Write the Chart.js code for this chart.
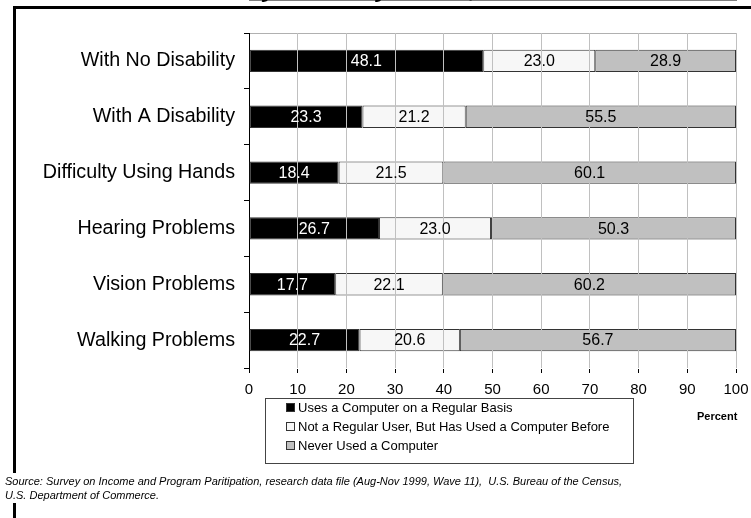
<!DOCTYPE html>
<html>
<head>
<meta charset="utf-8">
<script src="https://cdn.jsdelivr.net/npm/chart.js@4/dist/chart.umd.min.js"></script>
<style>
  html, body { margin: 0; padding: 0; background: #fff; overflow: hidden; }
  canvas { display: block; }
</style>
</head>
<body>
<canvas id="chart" width="751" height="518"></canvas>
<script>
  const categories = [
    'With No Disability', 'With A Disability', 'Difficulty Using Hands',
    'Hearing Problems', 'Vision Problems', 'Walking Problems'
  ];
  const seriesNames = [
    'Uses a Computer on a Regular Basis',
    'Not a Regular User, But Has Used a Computer Before',
    'Never Used a Computer'
  ];
  const regularUse = [48.1, 23.3, 18.4, 26.7, 17.7, 22.7];
  const usedBefore = [23.0, 21.2, 21.5, 23.0, 22.1, 20.6];
  const neverUsed = [28.9, 55.5, 60.1, 50.3, 60.2, 56.7];
  const seriesColors = ['#000000', '#f7f7f7', '#c0c0c0'];
  const labelColors = ['#ffffff', '#000000', '#000000'];

  const titleText = 'by Disability Status, 1999';
  const axisTitle = 'Percent';
  const sourceLines = [
    'Source: Survey on Income and Program Paritipation, research data file (Aug-Nov 1999, Wave 11),  U.S. Bureau of the Census,',
    'U.S. Department of Commerce.'
  ];

  const FONT = "'Liberation Sans', Arial, sans-serif";

  // frame, title, value labels, legend box, source note
  const extras = {
    id: 'extras',
    afterDraw(chart) {
      const ctx = chart.ctx;
      ctx.save();

      // values in the segments
      ctx.font = '16px ' + FONT;
      ctx.textAlign = 'center';
      ctx.textBaseline = 'middle';
      chart.data.datasets.forEach((ds, i) => {
        chart.getDatasetMeta(i).data.forEach((bar, j) => {
          ctx.fillStyle = labelColors[i];
          ctx.fillText(ds.data[j].toFixed(1), (bar.x + bar.base) / 2, bar.y + 1);
        });
      });

      // outer frame (top + left)
      ctx.fillStyle = '#000';
      ctx.fillRect(13, 6, 751 - 13, 3);
      ctx.fillRect(13, 6, 3, 518 - 6);

      // title, mostly cut off by the top edge
      ctx.font = 'italic bold 24px ' + FONT;
      ctx.textAlign = 'left';
      ctx.textBaseline = 'alphabetic';
      ctx.fillText(titleText, 248, -3);

      // legend
      const lx = 265, ly = 398, lw = 368, lh = 65;
      ctx.strokeStyle = '#444';
      ctx.lineWidth = 1;
      ctx.strokeRect(lx + 0.5, ly + 0.5, lw, lh);
      ctx.font = '13px ' + FONT;
      ctx.textBaseline = 'middle';
      chart.data.datasets.forEach((ds, i) => {
        const y = 408 + i * 19;
        ctx.fillStyle = ds.backgroundColor;
        ctx.fillRect(286, y - 5, 9, 9);
        ctx.strokeStyle = '#333';
        ctx.strokeRect(286.5, y - 4.5, 8, 8);
        ctx.fillStyle = '#000';
        ctx.fillText(ds.label, 298, y);
      });

      // axis title
      ctx.font = 'bold 11px ' + FONT;
      ctx.fillText(axisTitle, 697, 417);

      // source note, on a white box over the frame
      ctx.font = 'italic 11px ' + FONT;
      ctx.fillStyle = '#fff';
      ctx.fillRect(0, 473, ctx.measureText(sourceLines[0]).width + 8, 30);
      ctx.fillStyle = '#000';
      ctx.textBaseline = 'alphabetic';
      ctx.fillText(sourceLines[0], 5, 485);
      ctx.fillText(sourceLines[1], 5, 499);

      ctx.restore();
    }
  };

  new Chart(document.getElementById('chart'), {
    type: 'bar',
    data: {
      labels: categories,
      datasets: [regularUse, usedBefore, neverUsed].map((vals, i) => ({
        label: seriesNames[i],
        data: vals,
        backgroundColor: seriesColors[i],
        borderColor: '#333',
        borderWidth: 1,
        borderSkipped: false,
        barPercentage: 0.4,
        categoryPercentage: 1
      }))
    },
    options: {
      indexAxis: 'y',
      responsive: false,
      animation: false,
      devicePixelRatio: 1,
      layout: { padding: { left: 0, top: 33, right: 15, bottom: 0 } },
      plugins: {
        legend: { display: false },
        tooltip: { enabled: false }
      },
      scales: {
        x: {
          stacked: true,
          min: 0,
          max: 100,
          ticks: {
            stepSize: 10,
            color: '#000',
            padding: 8,
            font: { family: FONT, size: 15 }
          },
          grid: {
            z: 1,
            color: ctx => ctx.index === 0 ? 'rgba(0,0,0,0)' : '#c0c0c0',
            tickColor: '#000',
            tickLength: 5,
            lineWidth: 1
          },
          border: { color: '#000', width: 1 },
          afterFit: s => { s.height = 150; s.paddingLeft = 0; s.paddingRight = 0; }
        },
        y: {
          stacked: true,
          ticks: {
            color: '#000',
            padding: 9,
            font: { family: FONT, size: 19.7 }
          },
          grid: {
            // only the top edge of the plot area shows
            color: ctx => ctx.index === 0 ? '#b0b0b0' : 'rgba(0,0,0,0)',
            tickColor: '#000',
            tickLength: 5
          },
          border: { color: '#000', width: 1 },
          afterFit: s => { s.width = 249; }
        }
      }
    },
    plugins: [extras]
  });
</script>
</body>
</html>
